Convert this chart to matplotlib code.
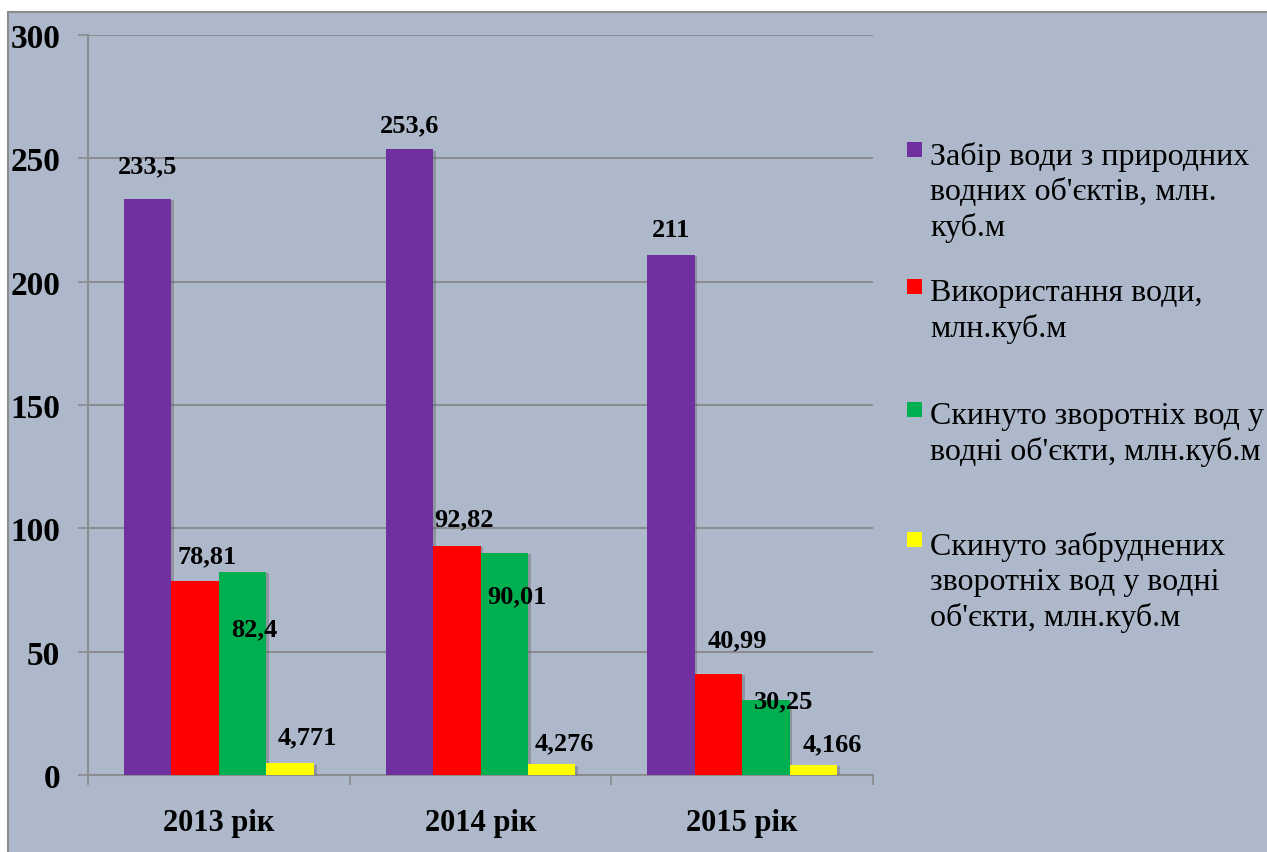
import matplotlib
matplotlib.use("Agg")
import matplotlib.pyplot as plt
import matplotlib.patches as mpatches
import matplotlib.patheffects as pe
import numpy as np

categories = ["2013 рік", "2014 рік", "2015 рік"]
series_names = [
    "Забір води з природних\nводних об'єктів, млн.\nкуб.м",
    "Використання води,\nмлн.куб.м",
    "Скинуто зворотніх вод у\nводні об'єкти, млн.куб.м",
    "Скинуто забруднених\nзворотніх вод у водні\nоб'єкти, млн.куб.м",
]
intake = [233.5, 253.6, 211]
usage = [78.81, 92.82, 40.99]
discharged = [82.4, 90.01, 30.25]
polluted = [4.771, 4.276, 4.166]
label_texts = [
    ["233,5", "253,6", "211"],
    ["78,81", "92,82", "40,99"],
    ["82,4", "90,01", "30,25"],
    ["4,771", "4,276", "4,166"],
]
yticks = [0, 50, 100, 150, 200, 250, 300]

colors = ["#7030A0", "#FF0000", "#00B050", "#FFFF00"]
bg = "#ADB8CB"
grid_c = "#8A8C90"

# label offsets in pixels (dx, dy) relative to bar top centre
offsets = [
    [(0, 33), (0, 25), (0, 25)],
    [(12, 25), (7, 27), (19, 34)],
    [(12, -57), (13, -43), (18, 0)],
    [(17, 26), (13, 22), (19, 21)],
]

W, H = 1267, 853
fig = plt.figure(figsize=(W / 100, H / 100), dpi=100)
fig.patch.set_facecolor("white")
# background panel
panel = mpatches.Rectangle((8 / W, -0.01), 1.0, 1.01 - 13 / H, transform=fig.transFigure,
                           facecolor=bg, edgecolor="#8C8C8C", linewidth=1.5, zorder=-10)
fig.add_artist(panel)

ax = fig.add_axes([88 / W, 1 - 776 / H, (873 - 88) / W, (776 - 36) / H])
ax.set_facecolor("none")
ax.set_zorder(2)

data = [intake, usage, discharged, polluted]
x = np.arange(len(categories))
w = 0.1815
shadow = [pe.SimplePatchShadow(offset=(2, -1), shadow_rgbFace="#555555", alpha=0.35), pe.Normal()]
for k, vals in enumerate(data):
    pos = x + (k - 1.5) * w
    bars = ax.bar(pos, vals, width=w, color=colors[k], zorder=3, linewidth=0)
    for b in bars:
        b.set_path_effects(shadow)
    for i, (p, v) in enumerate(zip(pos, vals)):
        dx, dy = offsets[k][i]
        ax.annotate(label_texts[k][i], (p, v), xytext=(dx, dy), textcoords="offset pixels",
                    ha="center", va="center", fontsize=19, fontweight="bold",
                    family="Liberation Serif", zorder=5)

ax.set_xlim(-0.5, 2.5)
ax.set_ylim(0, 300)
ax.set_yticks(yticks)
ax.set_yticklabels([str(t) for t in yticks], fontsize=24, fontweight="bold", family="Liberation Serif")
ax.set_xticks(x)
ax.set_xticklabels(categories, fontsize=22, fontweight="bold", family="Liberation Serif")
ax.set_xticks([-0.5, 0.5, 1.5, 2.5], minor=True)
ax.tick_params(axis="x", which="major", length=0, pad=24)
ax.tick_params(axis="x", which="minor", length=7, width=1.2, color=grid_c, direction="out")
ax.tick_params(axis="y", length=7, width=1.2, color=grid_c, pad=13)
ax.grid(axis="y", color=grid_c, linewidth=1.5, zorder=1)
for s in ["top", "right"]:
    ax.spines[s].set_visible(False)
ax.spines["left"].set_color(grid_c)
ax.spines["left"].set_linewidth(1.5)
ax.spines["bottom"].set_color(grid_c)
ax.spines["bottom"].set_linewidth(1.5)

# legend (manual placement)
leg_y = [155, 292, 415, 545]
for k, name in enumerate(series_names):
    yc = leg_y[k]
    fig.patches.append(mpatches.Rectangle((907 / W, 1 - (yc + 2.5) / H), 15 / W, 15 / H,
                                          transform=fig.transFigure, facecolor=colors[k],
                                          edgecolor="none", zorder=3))
    fig.text(930 / W, 1 - (yc - 13) / H, name, ha="left", va="top", fontsize=23,
             family="Liberation Serif", linespacing=1.27)

fig.savefig("out.png", dpi=100, facecolor=fig.get_facecolor())
